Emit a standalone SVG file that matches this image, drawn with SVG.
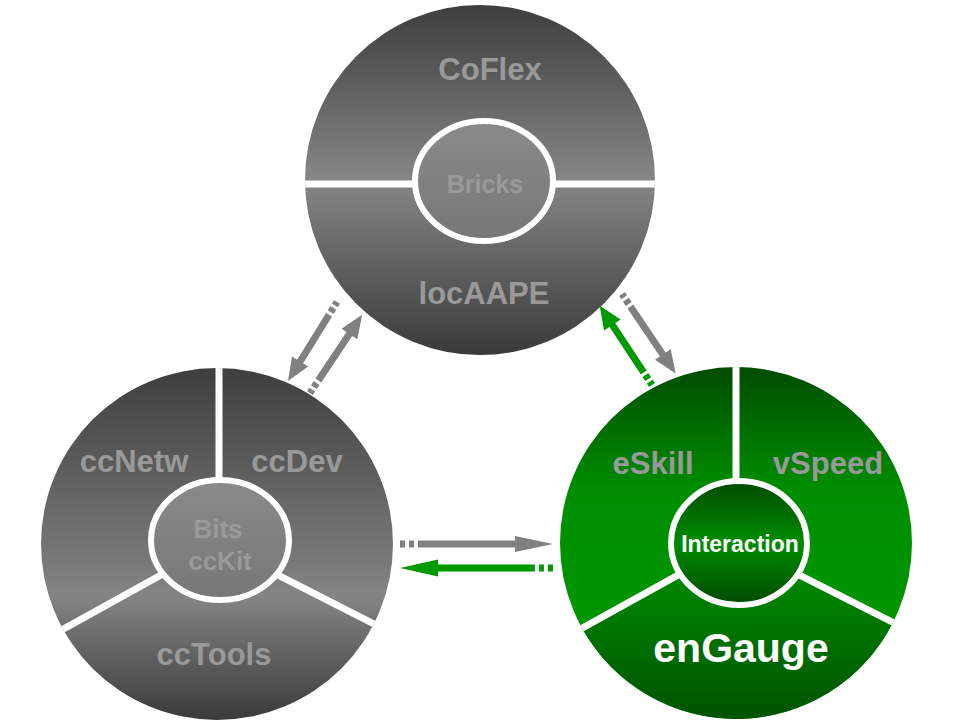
<svg xmlns="http://www.w3.org/2000/svg" width="960" height="720" viewBox="0 0 960 720">
<defs>
<linearGradient id="gTop" gradientUnits="userSpaceOnUse" x1="0" y1="6" x2="0" y2="354">
<stop offset="0" stop-color="#3e3e3e"/><stop offset="0.5" stop-color="#868686"/><stop offset="1" stop-color="#3a3a3a"/>
</linearGradient>
<linearGradient id="gLeft" gradientUnits="userSpaceOnUse" x1="0" y1="368" x2="0" y2="720">
<stop offset="0" stop-color="#3e3e3e"/><stop offset="0.65" stop-color="#848484"/><stop offset="1" stop-color="#3a3a3a"/>
</linearGradient>
<linearGradient id="gInner" x1="0" y1="0" x2="0" y2="1">
<stop offset="0" stop-color="#8a8a8a"/><stop offset="1" stop-color="#777777"/>
</linearGradient>
<linearGradient id="gGreen" gradientUnits="userSpaceOnUse" x1="0" y1="367" x2="0" y2="719">
<stop offset="0" stop-color="#004c00"/><stop offset="0.35" stop-color="#008e00"/><stop offset="1" stop-color="#009a00"/>
</linearGradient>
<linearGradient id="gGreenLow" gradientUnits="userSpaceOnUse" x1="0" y1="570" x2="0" y2="719">
<stop offset="0" stop-color="#008a00"/><stop offset="1" stop-color="#005200"/>
</linearGradient>
<linearGradient id="gGreenIn" x1="0" y1="0" x2="0" y2="1">
<stop offset="0" stop-color="#004a00"/><stop offset="0.5" stop-color="#008c00"/><stop offset="1" stop-color="#004a00"/>
</linearGradient>
<clipPath id="cTop"><circle cx="480" cy="180" r="175"/></clipPath>
<clipPath id="cLeft"><circle cx="217" cy="544" r="176"/></clipPath>
<clipPath id="cRight"><circle cx="736" cy="543" r="176"/></clipPath>
</defs>
<style>
.lbl{font-family:"Liberation Sans",Arial,sans-serif;font-weight:bold;fill:#999999;text-anchor:middle}
.wlbl{font-family:"Liberation Sans",Arial,sans-serif;font-weight:bold;fill:#ffffff;text-anchor:middle}
.div{stroke:#ffffff;stroke-width:7;fill:none}
.ring{stroke:#ffffff;stroke-width:6}
.gs{stroke:#808080;stroke-width:7}
.gh{fill:#808080}
.ns{stroke:#009900;stroke-width:7}
.nh{fill:#009900}
.dd{stroke-dasharray:4 3 5 3 1000}
.dh{stroke-dasharray:5 4 5 4 1000}
</style>
<rect width="960" height="720" fill="#ffffff"/>

<g id="node-top">
<circle cx="480" cy="180" r="175" fill="url(#gTop)"/>
<line class="div" clip-path="url(#cTop)" x1="300" y1="184" x2="660" y2="184"/>
<ellipse class="ring" cx="484" cy="181" rx="69" ry="60" fill="url(#gInner)"/>
<text class="lbl" x="490" y="80" font-size="31">CoFlex</text>
<text class="lbl" x="485" y="193" font-size="25">Bricks</text>
<text class="lbl" x="484" y="304" font-size="31">locAAPE</text>
</g>

<g id="node-left">
<circle cx="217" cy="544" r="176" fill="url(#gLeft)"/>
<g clip-path="url(#cLeft)">
<line class="div" x1="219" y1="360" x2="219" y2="544"/>
<line class="div" x1="217" y1="544" x2="58" y2="632"/>
<line class="div" x1="217" y1="544" x2="378" y2="626"/>
</g>
<ellipse class="ring" cx="220" cy="540" rx="69" ry="60" fill="url(#gInner)"/>
<text class="lbl" x="134" y="472" font-size="31">ccNetw</text>
<text class="lbl" x="297" y="472" font-size="31">ccDev</text>
<text class="lbl" x="218" y="538" font-size="26">Bits</text>
<text class="lbl" x="220" y="570" font-size="26">ccKit</text>
<text class="lbl" x="214" y="665" font-size="31">ccTools</text>
</g>

<g id="node-right">
<circle cx="736" cy="543" r="176" fill="url(#gGreen)"/>
<path d="M736,543 L582.1,628.3 A176,176 0 0 0 892.8,622.9 Z" fill="url(#gGreenLow)"/>
<g clip-path="url(#cRight)">
<line class="div" x1="736" y1="360" x2="736" y2="543"/>
<line class="div" x1="736" y1="543" x2="577" y2="631"/>
<line class="div" x1="736" y1="543" x2="898" y2="625"/>
</g>
<ellipse class="ring" cx="739" cy="543" rx="68" ry="62" fill="url(#gGreenIn)"/>
<text class="lbl" x="653" y="474" font-size="31">eSkill</text>
<text class="lbl" x="828" y="474" font-size="31">vSpeed</text>
<text class="wlbl" x="740" y="552" font-size="23">Interaction</text>
<text class="wlbl" x="741" y="662" font-size="41">enGauge</text>
</g>

<g id="connectors">
<g transform="translate(337,302) rotate(121.8)">
<line class="gs dd" x1="0" y1="0" x2="71" y2="0"/>
<polygon class="gh" points="70,-9.5 93,0 70,9.5"/>
</g>
<g transform="translate(310,393) rotate(-56.3)">
<line class="gs dd" x1="0" y1="0" x2="72" y2="0"/>
<polygon class="gh" points="71,-9.5 94,0 71,9.5"/>
</g>
<g transform="translate(652,385) rotate(-123.4)">
<line class="ns dd" x1="0" y1="0" x2="73" y2="0"/>
<polygon class="nh" points="72,-10 95,0 72,10"/>
</g>
<g transform="translate(622,294) rotate(56)">
<line class="gs dd" x1="0" y1="0" x2="74" y2="0"/>
<polygon class="gh" points="73,-9.5 96,0 73,9.5"/>
</g>
<g transform="translate(400,544)">
<line class="gs dh" x1="0" y1="0" x2="116" y2="0"/>
<polygon class="gh" points="115,-8 153,0 115,8"/>
</g>
<g transform="translate(553,568) rotate(180)">
<line class="ns dh" x1="0" y1="0" x2="116" y2="0"/>
<polygon class="nh" points="115,-8.5 153,0 115,8.5"/>
</g>
</g>
</svg>
